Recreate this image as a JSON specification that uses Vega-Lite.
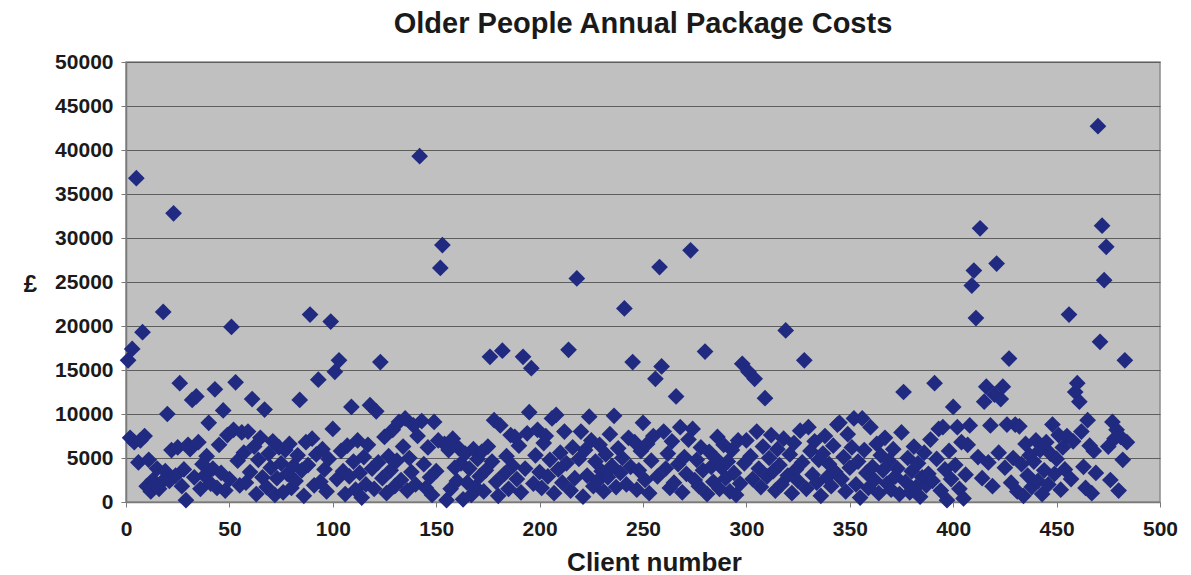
{
"$schema":"https://vega.github.io/schema/vega-lite/v6.json",
"width":1034,"height":440,
"autosize":{"type":"none"},
"padding":{"left":126,"top":62,"right":31,"bottom":73},
"background":"white",
"title":{"text":"Older People Annual Package Costs","font":"Liberation Sans","fontSize":29,"fontWeight":"bold","color":"#1a1a1a","anchor":"middle","frame":"group","baseline":"alphabetic","offset":-11},
"config":{"view":{"fill":"#C0C0C0","stroke":"#8c8c8c","strokeWidth":1.5}},
"data":{"values":[
{"c":1,"v":16100},{"c":2,"v":7300},{"c":3,"v":17400},{"c":4,"v":6800},{"c":5,"v":36800},{"c":6,"v":4500},{"c":7,"v":7000},{"c":8,"v":19300},{"c":9,"v":7500},{"c":10,"v":1800},
{"c":11,"v":4800},{"c":12,"v":1200},{"c":13,"v":2500},{"c":14,"v":1900},{"c":15,"v":3800},{"c":16,"v":1500},{"c":17,"v":2200},{"c":18,"v":21600},{"c":19,"v":3500},{"c":20,"v":10000},
{"c":21,"v":2400},{"c":22,"v":5900},{"c":23,"v":32800},{"c":24,"v":3000},{"c":25,"v":6200},{"c":26,"v":13500},{"c":27,"v":1800},{"c":28,"v":3700},{"c":29,"v":200},{"c":30,"v":6500},
{"c":31,"v":6000},{"c":32,"v":11600},{"c":33,"v":2800},{"c":34,"v":12000},{"c":35,"v":6800},{"c":36,"v":1500},{"c":37,"v":4300},{"c":38,"v":3000},{"c":39,"v":5200},{"c":40,"v":9000},
{"c":41,"v":2100},{"c":42,"v":3800},{"c":43,"v":12800},{"c":44,"v":1600},{"c":45,"v":6500},{"c":46,"v":3300},{"c":47,"v":10400},{"c":48,"v":1300},{"c":49,"v":7600},{"c":50,"v":2600},
{"c":51,"v":19900},{"c":52,"v":8200},{"c":53,"v":13600},{"c":54,"v":4700},{"c":55,"v":1900},{"c":56,"v":7900},{"c":57,"v":5600},{"c":58,"v":2200},{"c":59,"v":8000},{"c":60,"v":3400},
{"c":61,"v":11700},{"c":62,"v":6300},{"c":63,"v":900},{"c":64,"v":4800},{"c":65,"v":7300},{"c":66,"v":2800},{"c":67,"v":10500},{"c":68,"v":1700},{"c":69,"v":5500},{"c":70,"v":3900},
{"c":71,"v":6900},{"c":72,"v":800},{"c":73,"v":2700},{"c":74,"v":6200},{"c":75,"v":4400},{"c":76,"v":1100},{"c":77,"v":5900},{"c":78,"v":3200},{"c":79,"v":6600},{"c":80,"v":1600},
{"c":81,"v":4100},{"c":82,"v":2400},{"c":83,"v":5300},{"c":84,"v":11600},{"c":85,"v":3600},{"c":86,"v":700},{"c":87,"v":6800},{"c":88,"v":4200},{"c":89,"v":21300},{"c":90,"v":7200},
{"c":91,"v":1900},{"c":92,"v":5400},{"c":93,"v":13900},{"c":94,"v":2300},{"c":95,"v":6000},{"c":96,"v":3700},{"c":97,"v":1200},{"c":98,"v":4900},{"c":99,"v":20500},{"c":100,"v":8300},
{"c":101,"v":14800},{"c":102,"v":2600},{"c":103,"v":16100},{"c":104,"v":5800},{"c":105,"v":3500},{"c":106,"v":900},{"c":107,"v":6400},{"c":108,"v":2900},{"c":109,"v":10800},{"c":110,"v":4600},
{"c":111,"v":1400},{"c":112,"v":7000},{"c":113,"v":3300},{"c":114,"v":500},{"c":115,"v":5100},{"c":116,"v":2000},{"c":117,"v":6500},{"c":118,"v":11000},{"c":119,"v":3800},{"c":120,"v":1500},
{"c":121,"v":10300},{"c":122,"v":4500},{"c":123,"v":15900},{"c":124,"v":2700},{"c":125,"v":7400},{"c":126,"v":1000},{"c":127,"v":5200},{"c":128,"v":3600},{"c":129,"v":8200},{"c":130,"v":1800},
{"c":131,"v":4700},{"c":132,"v":9100},{"c":133,"v":2500},{"c":134,"v":6300},{"c":135,"v":9500},{"c":136,"v":1300},{"c":137,"v":5000},{"c":138,"v":3400},{"c":139,"v":8700},{"c":140,"v":2000},
{"c":141,"v":7500},{"c":142,"v":39300},{"c":143,"v":9200},{"c":144,"v":4300},{"c":145,"v":1600},{"c":146,"v":6200},{"c":147,"v":2800},{"c":148,"v":800},{"c":149,"v":9100},{"c":150,"v":3500},
{"c":151,"v":7000},{"c":152,"v":26600},{"c":153,"v":29200},{"c":154,"v":6600},{"c":155,"v":200},{"c":156,"v":5900},{"c":157,"v":1500},{"c":158,"v":7200},{"c":159,"v":3900},{"c":160,"v":2400},
{"c":161,"v":6100},{"c":162,"v":4400},{"c":163,"v":300},{"c":164,"v":5500},{"c":165,"v":2200},{"c":166,"v":3800},{"c":167,"v":800},{"c":168,"v":6000},{"c":169,"v":1700},{"c":170,"v":4900},
{"c":171,"v":2900},{"c":172,"v":5700},{"c":173,"v":1200},{"c":174,"v":3600},{"c":175,"v":6300},{"c":176,"v":16500},{"c":177,"v":4600},{"c":178,"v":9300},{"c":179,"v":2300},{"c":180,"v":700},
{"c":181,"v":8700},{"c":182,"v":17200},{"c":183,"v":3200},{"c":184,"v":5200},{"c":185,"v":1500},{"c":186,"v":7600},{"c":187,"v":4100},{"c":188,"v":7400},{"c":189,"v":2600},{"c":190,"v":6400},
{"c":191,"v":1100},{"c":192,"v":16500},{"c":193,"v":3800},{"c":194,"v":7800},{"c":195,"v":10200},{"c":196,"v":15200},{"c":197,"v":2100},{"c":198,"v":5300},{"c":199,"v":8200},{"c":200,"v":3400},
{"c":201,"v":1600},{"c":202,"v":6700},{"c":203,"v":7500},{"c":204,"v":2900},{"c":205,"v":4800},{"c":206,"v":9500},{"c":207,"v":1000},{"c":208,"v":9900},{"c":209,"v":3700},{"c":210,"v":5600},
{"c":211,"v":2200},{"c":212,"v":8000},{"c":213,"v":4400},{"c":214,"v":17300},{"c":215,"v":1300},{"c":216,"v":6200},{"c":217,"v":2700},{"c":218,"v":25400},{"c":219,"v":4900},{"c":220,"v":8000},
{"c":221,"v":600},{"c":222,"v":5900},{"c":223,"v":3000},{"c":224,"v":9700},{"c":225,"v":7000},{"c":226,"v":1800},{"c":227,"v":4600},{"c":228,"v":2400},{"c":229,"v":6500},{"c":230,"v":3500},
{"c":231,"v":1200},{"c":232,"v":5400},{"c":233,"v":2800},{"c":234,"v":7700},{"c":235,"v":4100},{"c":236,"v":9800},{"c":237,"v":1700},{"c":238,"v":6100},{"c":239,"v":3300},{"c":240,"v":5000},
{"c":241,"v":22000},{"c":242,"v":2000},{"c":243,"v":7300},{"c":244,"v":4000},{"c":245,"v":15900},{"c":246,"v":6800},{"c":247,"v":1400},{"c":248,"v":3600},{"c":249,"v":5800},{"c":250,"v":9000},
{"c":251,"v":2500},{"c":252,"v":6600},{"c":253,"v":1000},{"c":254,"v":4700},{"c":255,"v":7500},{"c":256,"v":14000},{"c":257,"v":2900},{"c":258,"v":26700},{"c":259,"v":15400},{"c":260,"v":8000},
{"c":261,"v":3800},{"c":262,"v":5500},{"c":263,"v":1600},{"c":264,"v":6900},{"c":265,"v":2200},{"c":266,"v":12000},{"c":267,"v":4300},{"c":268,"v":8500},{"c":269,"v":1100},{"c":270,"v":5100},
{"c":271,"v":3200},{"c":272,"v":7100},{"c":273,"v":28600},{"c":274,"v":8300},{"c":275,"v":2500},{"c":276,"v":4800},{"c":277,"v":1800},{"c":278,"v":6200},{"c":279,"v":3600},{"c":280,"v":17100},
{"c":281,"v":900},{"c":282,"v":5700},{"c":283,"v":4000},{"c":284,"v":2300},{"c":285,"v":5000},{"c":286,"v":7400},{"c":287,"v":1500},{"c":288,"v":3900},{"c":289,"v":6500},{"c":290,"v":2700},
{"c":291,"v":4600},{"c":292,"v":1200},{"c":293,"v":5900},{"c":294,"v":3300},{"c":295,"v":800},{"c":296,"v":7000},{"c":297,"v":2100},{"c":298,"v":15700},{"c":299,"v":4400},{"c":300,"v":7000},
{"c":301,"v":14800},{"c":302,"v":5200},{"c":303,"v":2600},{"c":304,"v":14000},{"c":305,"v":8000},{"c":306,"v":3800},{"c":307,"v":1700},{"c":308,"v":6300},{"c":309,"v":11800},{"c":310,"v":2900},
{"c":311,"v":5000},{"c":312,"v":7600},{"c":313,"v":3500},{"c":314,"v":1300},{"c":315,"v":6000},{"c":316,"v":4200},{"c":317,"v":2000},{"c":318,"v":7200},{"c":319,"v":19500},{"c":320,"v":3000},
{"c":321,"v":5400},{"c":322,"v":1000},{"c":323,"v":6700},{"c":324,"v":3700},{"c":325,"v":2400},{"c":326,"v":8100},{"c":327,"v":4500},{"c":328,"v":16100},{"c":329,"v":1500},{"c":330,"v":8500},
{"c":331,"v":5800},{"c":332,"v":3100},{"c":333,"v":6900},{"c":334,"v":2200},{"c":335,"v":4800},{"c":336,"v":700},{"c":337,"v":5500},{"c":338,"v":7500},{"c":339,"v":2800},{"c":340,"v":4300},
{"c":341,"v":1800},{"c":342,"v":6400},{"c":343,"v":3400},{"c":344,"v":8800},{"c":345,"v":9000},{"c":346,"v":2600},{"c":347,"v":5100},{"c":348,"v":1200},{"c":349,"v":7700},{"c":350,"v":3900},
{"c":351,"v":6200},{"c":352,"v":9500},{"c":353,"v":2000},{"c":354,"v":4600},{"c":355,"v":500},{"c":356,"v":9500},{"c":357,"v":5900},{"c":358,"v":3300},{"c":359,"v":1600},{"c":360,"v":8500},
{"c":361,"v":4000},{"c":362,"v":2500},{"c":363,"v":6600},{"c":364,"v":1000},{"c":365,"v":5300},{"c":366,"v":3600},{"c":367,"v":7300},{"c":368,"v":2100},{"c":369,"v":4700},{"c":370,"v":1400},
{"c":371,"v":6000},{"c":372,"v":2900},{"c":373,"v":3800},{"c":374,"v":900},{"c":375,"v":7900},{"c":376,"v":12500},{"c":377,"v":2300},{"c":378,"v":5000},{"c":379,"v":1100},{"c":380,"v":3500},
{"c":381,"v":6300},{"c":382,"v":1700},{"c":383,"v":4400},{"c":384,"v":600},{"c":385,"v":2800},{"c":386,"v":5600},{"c":387,"v":1900},{"c":388,"v":3200},{"c":389,"v":7100},{"c":390,"v":2400},
{"c":391,"v":13500},{"c":392,"v":4900},{"c":393,"v":8300},{"c":394,"v":1300},{"c":395,"v":8500},{"c":396,"v":3700},{"c":397,"v":200},{"c":398,"v":5800},{"c":399,"v":2600},{"c":400,"v":10800},
{"c":401,"v":4200},{"c":402,"v":8500},{"c":403,"v":1500},{"c":404,"v":6800},{"c":405,"v":400},{"c":406,"v":3100},{"c":407,"v":6500},{"c":408,"v":8700},{"c":409,"v":24600},{"c":410,"v":26300},
{"c":411,"v":20900},{"c":412,"v":5100},{"c":413,"v":31100},{"c":414,"v":2700},{"c":415,"v":11400},{"c":416,"v":13100},{"c":417,"v":4500},{"c":418,"v":8700},{"c":419,"v":1800},{"c":420,"v":12200},
{"c":421,"v":27100},{"c":422,"v":5600},{"c":423,"v":11700},{"c":424,"v":13100},{"c":425,"v":3900},{"c":426,"v":8800},{"c":427,"v":16300},{"c":428,"v":2200},{"c":429,"v":5000},{"c":430,"v":8800},
{"c":431,"v":1200},{"c":432,"v":8600},{"c":433,"v":4300},{"c":434,"v":700},{"c":435,"v":6600},{"c":436,"v":3000},{"c":437,"v":5300},{"c":438,"v":1700},{"c":439,"v":4600},{"c":440,"v":7000},
{"c":441,"v":2400},{"c":442,"v":5900},{"c":443,"v":900},{"c":444,"v":3600},{"c":445,"v":6800},{"c":446,"v":2000},{"c":447,"v":5500},{"c":448,"v":8800},{"c":449,"v":3200},{"c":450,"v":4900},
{"c":451,"v":7600},{"c":452,"v":1400},{"c":453,"v":6200},{"c":454,"v":3700},{"c":455,"v":7500},{"c":456,"v":21300},{"c":457,"v":2600},{"c":458,"v":6900},{"c":459,"v":12500},{"c":460,"v":13500},
{"c":461,"v":11400},{"c":462,"v":8000},{"c":463,"v":4000},{"c":464,"v":1600},{"c":465,"v":9300},{"c":466,"v":6400},{"c":467,"v":1000},{"c":468,"v":5800},{"c":469,"v":3300},{"c":470,"v":42700},
{"c":471,"v":18200},{"c":472,"v":31400},{"c":473,"v":25200},{"c":474,"v":29000},{"c":475,"v":6300},{"c":476,"v":2500},{"c":477,"v":9100},{"c":478,"v":7200},{"c":479,"v":8200},{"c":480,"v":1300},
{"c":481,"v":7400},{"c":482,"v":4800},{"c":483,"v":16100},{"c":484,"v":6800}
]},
"mark":{"type":"point","shape":"diamond","filled":true,"size":280,"color":"#202A80","opacity":1},
"encoding":{
"x":{"field":"c","type":"quantitative","scale":{"domain":[0,500],"nice":false,"zero":true},
"axis":{"title":"Client number","values":[0,50,100,150,200,250,300,350,400,450,500],"grid":false,"domainColor":"#7a7a7a","domainWidth":1.5,"tickColor":"#7a7a7a","tickSize":5,"labelPadding":11,"labelFont":"Liberation Sans","labelFontSize":21,"labelFontWeight":"bold","labelColor":"#1a1a1a","labelFlush":false,"titleFont":"Liberation Sans","titleFontSize":26,"titleFontWeight":"bold","titleColor":"#1a1a1a","titleBaseline":"alphabetic","titleAlign":"center","titleX":528,"titleY":68}},
"y":{"field":"v","type":"quantitative","scale":{"domain":[0,50000],"nice":false},
"axis":{"title":"£","values":[0,5000,10000,15000,20000,25000,30000,35000,40000,45000,50000],"format":"d","grid":true,"gridColor":"#5e5e5e","gridWidth":1.2,"domainColor":"#7a7a7a","domainWidth":1.5,"tickColor":"#7a7a7a","tickSize":5,"labelPadding":8,"labelFont":"Liberation Sans","labelFontSize":21,"labelFontWeight":"bold","labelColor":"#1a1a1a","labelFlush":false,"titleFont":"Liberation Sans","titleFontSize":24,"titleFontWeight":"bold","titleColor":"#1a1a1a","titleAngle":0,"titleAlign":"center","titleBaseline":"middle","titleX":-96,"titleY":222}}
}
}
